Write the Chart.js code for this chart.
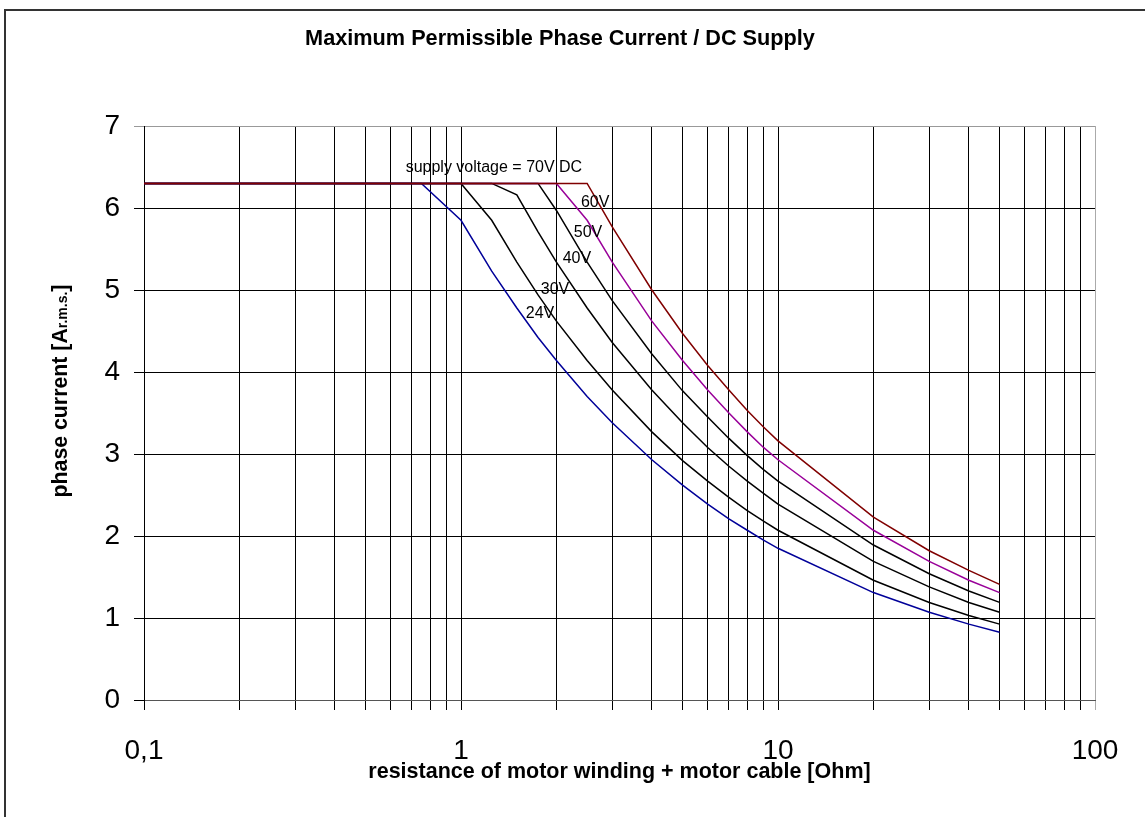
<!DOCTYPE html>
<html>
<head>
<meta charset="utf-8">
<script src="https://cdn.jsdelivr.net/npm/chart.js@4.4.1/dist/chart.umd.min.js"></script>
<style>
  html, body { margin: 0; padding: 0; background: #fff; overflow: hidden; }
  #frame { position: absolute; left: 4px; top: 9px; width: 1200px; height: 900px;
           border-left: 2px solid #333; border-top: 2px solid #333; }
  #c { position: absolute; left: 0; top: 0; }
</style>
</head>
<body>
<div id="frame"></div>
<canvas id="c" width="1145" height="817"></canvas>
<script>
// ---- data ----
const resistance = [0.1, 0.75, 1, 1.25, 1.5, 1.75, 2, 2.5, 3, 4, 5, 6, 7, 8, 9, 10, 20, 30, 40, 50];
const current24V = [6.3, 6.3, 5.85, 5.23, 4.78, 4.42, 4.14, 3.70, 3.38, 2.93, 2.62, 2.39, 2.21, 2.07, 1.95, 1.85, 1.31, 1.07, 0.925, 0.827];
const current30V = [6.3, 6.3, 6.3, 5.85, 5.34, 4.94, 4.62, 4.14, 3.78, 3.27, 2.92, 2.67, 2.47, 2.31, 2.18, 2.07, 1.46, 1.19, 1.03, 0.925];
const current40V = [6.3, 6.3, 6.3, 6.3, 6.16, 5.71, 5.34, 4.78, 4.36, 3.78, 3.38, 3.08, 2.85, 2.67, 2.52, 2.39, 1.69, 1.38, 1.19, 1.07];
const current50V = [6.3, 6.3, 6.3, 6.3, 6.3, 6.3, 5.97, 5.34, 4.87, 4.22, 3.77, 3.45, 3.19, 2.98, 2.81, 2.67, 1.89, 1.54, 1.33, 1.19];
const current60V = [6.3, 6.3, 6.3, 6.3, 6.3, 6.3, 6.3, 5.85, 5.34, 4.62, 4.14, 3.78, 3.50, 3.27, 3.08, 2.93, 2.07, 1.69, 1.46, 1.31];
const current70V = [6.3, 6.3, 6.3, 6.3, 6.3, 6.3, 6.3, 6.3, 5.77, 5.00, 4.47, 4.08, 3.78, 3.53, 3.33, 3.16, 2.23, 1.82, 1.58, 1.41];

const xTickValues = [0.1,0.2,0.3,0.4,0.5,0.6,0.7,0.8,0.9,1,2,3,4,5,6,7,8,9,10,20,30,40,50,60,70,80,90,100];
const xTickLabels = {0.1: '0,1', 1: '1', 10: '10', 100: '100'};
const yTickValues = [0, 1, 2, 3, 4, 5, 6, 7];

// listed top-most first (70V is drawn over the others)
const seriesNames = ['70V', '60V', '50V', '40V', '30V', '24V'];
const seriesValues = [current70V, current60V, current50V, current40V, current30V, current24V];
const seriesColors = ['#800000', '#990099', '#000000', '#000000', '#000000', '#000099'];

// curve annotations: [text, resistance, current]
const curveLabels = [
  ['supply voltage = 70V DC', 1.27, 6.49],
  ['60V', 2.65, 6.06],
  ['50V', 2.515, 5.70],
  ['40V', 2.32, 5.38],
  ['30V', 1.98, 5.00],
  ['24V', 1.775, 4.71]
];

const titleText = 'Maximum Permissible Phase Current / DC Supply';
const xTitleText = 'resistance of motor winding + motor cable [Ohm]';
const yTitleParts = ['phase current [A', 'r.m.s.', ']'];

const FONT = 'Arial, "Liberation Sans", sans-serif';

const datasets = seriesNames.map((n, i) => ({
  label: n,
  data: resistance.map((r, j) => ({x: r, y: seriesValues[i][j]})),
  borderColor: seriesColors[i],
  backgroundColor: seriesColors[i],
  borderWidth: 1.5,
  pointRadius: 0,
  tension: 0,
  fill: false,
  order: i
}));

const textPlugin = {
  id: 'texts',
  afterDraw(chart) {
    const ctx = chart.ctx;
    const xs = chart.scales.x, ys = chart.scales.y;
    ctx.save();
    ctx.fillStyle = '#000';
    // title
    ctx.font = 'bold 21.7px ' + FONT;
    ctx.textAlign = 'center';
    ctx.textBaseline = 'alphabetic';
    ctx.fillText(titleText, 560, 45);
    // x title
    ctx.font = 'bold 21.5px ' + FONT;
    ctx.fillText(xTitleText, (xs.left + xs.right) / 2, 778);
    // y title (rotated, mixed size)
    ctx.save();
    ctx.translate(67, 391);
    ctx.rotate(-Math.PI / 2);
    const big = 'bold 21.3px ' + FONT, small = 'bold 14px ' + FONT;
    ctx.font = big; const w1 = ctx.measureText(yTitleParts[0]).width;
    ctx.font = small; const w2 = ctx.measureText(yTitleParts[1]).width;
    ctx.font = big; const w3 = ctx.measureText(yTitleParts[2]).width;
    let x0 = -(w1 + w2 + w3) / 2;
    ctx.textAlign = 'left';
    ctx.font = big; ctx.fillText(yTitleParts[0], x0, 0);
    ctx.font = small; ctx.fillText(yTitleParts[1], x0 + w1, 0);
    ctx.font = big; ctx.fillText(yTitleParts[2], x0 + w1 + w2, 0);
    ctx.restore();
    // curve labels
    ctx.font = '16px ' + FONT;
    ctx.textAlign = 'center';
    ctx.textBaseline = 'middle';
    curveLabels.forEach(([t, r, v]) => {
      ctx.fillText(t, xs.getPixelForValue(r), ys.getPixelForValue(v));
    });
    ctx.restore();
  }
};

new Chart(document.getElementById('c'), {
  type: 'line',
  data: { datasets },
  plugins: [textPlugin],
  options: {
    responsive: false,
    animation: false,
    devicePixelRatio: 1,
    layout: { padding: { top: 126, right: 50, bottom: 0, left: 0 } },
    plugins: { legend: { display: false }, title: { display: false }, tooltip: { enabled: false } },
    scales: {
      x: {
        type: 'logarithmic',
        min: 0.1, max: 100,
        afterBuildTicks: s => { s.ticks = xTickValues.map(v => ({value: v})); },
        afterFit: s => { s.height = 117; },
        ticks: {
          autoSkip: false, maxRotation: 0, minRotation: 0,
          padding: 24,
          color: '#000',
          font: { family: FONT, size: 28 },
          callback: v => xTickLabels[v] !== undefined ? xTickLabels[v] : ''
        },
        grid: {
          color: c => (c.tick && c.tick.value === 100) ? '#aaaaaa' : '#000000',
          lineWidth: 1,
          tickLength: 10,
          drawTicks: true
        },
        border: { display: true, color: '#555555', width: 1 }
      },
      y: {
        type: 'linear',
        min: 0, max: 7,
        afterBuildTicks: s => { s.ticks = yTickValues.map(v => ({value: v})); },
        afterFit: s => { s.width = 144; },
        ticks: {
          padding: 14,
          color: '#000',
          font: { family: FONT, size: 28 }
        },
        grid: {
          color: c => (c.tick && c.tick.value === 7) ? '#999999' : '#000000',
          lineWidth: 1,
          tickLength: 10
        },
        border: { display: true, color: '#000000', width: 1 }
      }
    }
  }
});
</script>
</body>
</html>
